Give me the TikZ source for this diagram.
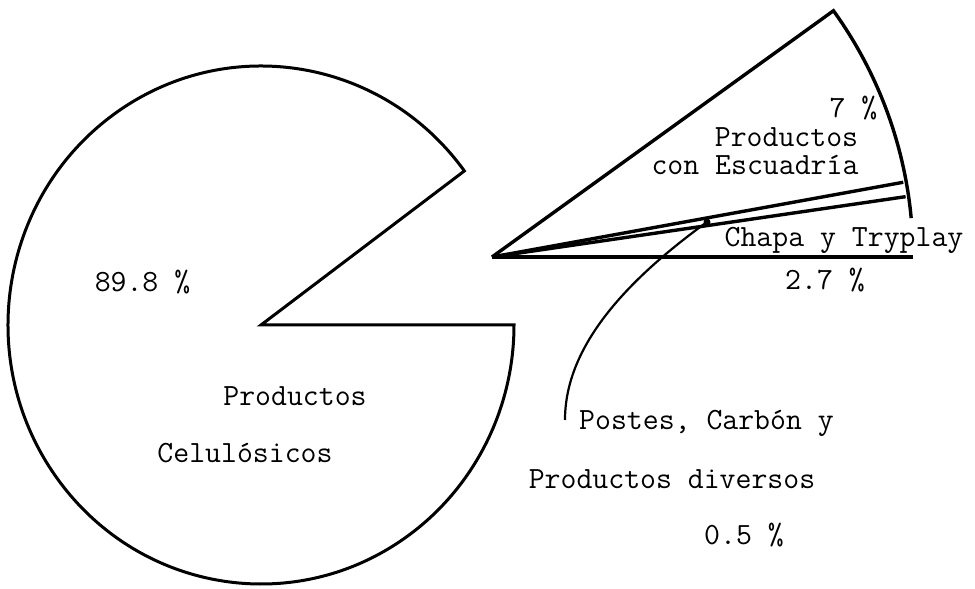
\documentclass[tikz,border=0pt]{standalone}
\usepackage{fontspec}
\begin{document}
\begin{tikzpicture}[x=1pt,y=1pt,
  pie/.style={draw=black,line width=3pt},
  pietwo/.style={draw=black,line width=3.4pt},
  lead/.style={draw=black,line width=2.2pt},
  lbl/.style={font=\ttfamily\addfontfeatures{FakeBold=2}\fontsize{30.9}{34}\selectfont,anchor=base,inner sep=0pt}]
\useasboundingbox (0,0) rectangle (975,589);
% main pie
\coordinate (C) at (261,264);
\draw[pie] (C) -- ++({253*cos(36.5)},{259*sin(36.5)})
  arc[start angle=36.5,end angle=360,x radius=253,y radius=259] -- cycle;
% exploded sector
\coordinate (A) at (492,332);
\draw[pietwo] (A) -- ++(0:421) coordinate (e0);
\draw[pietwo] (A) -- ++(8.3:418) coordinate (e1);
\draw[pietwo] (A) -- ++(10.3:418) coordinate (e2);
\draw[pietwo] (A) -- ++(35.8:421) coordinate (e3)
  arc[start angle=35.8,end angle=5.3,radius=421];
% leader
\coordinate (dot) at (707,367);
\coordinate (lend) at (565,169);
\fill (dot) circle (3.5);
\draw[lead] (dot) .. controls (620,304) and (565,239) .. (lend);
% labels
\node[lbl] (p7) at (853.5,471) {7 \%};
\node[lbl] (pe1) at (786.5,442) {Productos};
\node[lbl] (pe2) at (755,414) {con Escuadría};
\node[lbl] (ch) at (844,342) {Chapa y Tryplay};
\node[lbl] (p27) at (825,299) {2.7 \%};
\node[lbl] (p898) at (142.5,297) {89.8 \%};
\node[lbl] (pc1) at (295,183) {Productos};
\node[lbl] (pc2) at (245,126) {Celulósicos};
\node[lbl] (po1) at (706.5,159) {Postes, Carbón y};
\node[lbl] (po2) at (672,100) {Productos diversos};
\node[lbl] (p05) at (744,44) {0.5 \%};
\end{tikzpicture}
\end{document}
